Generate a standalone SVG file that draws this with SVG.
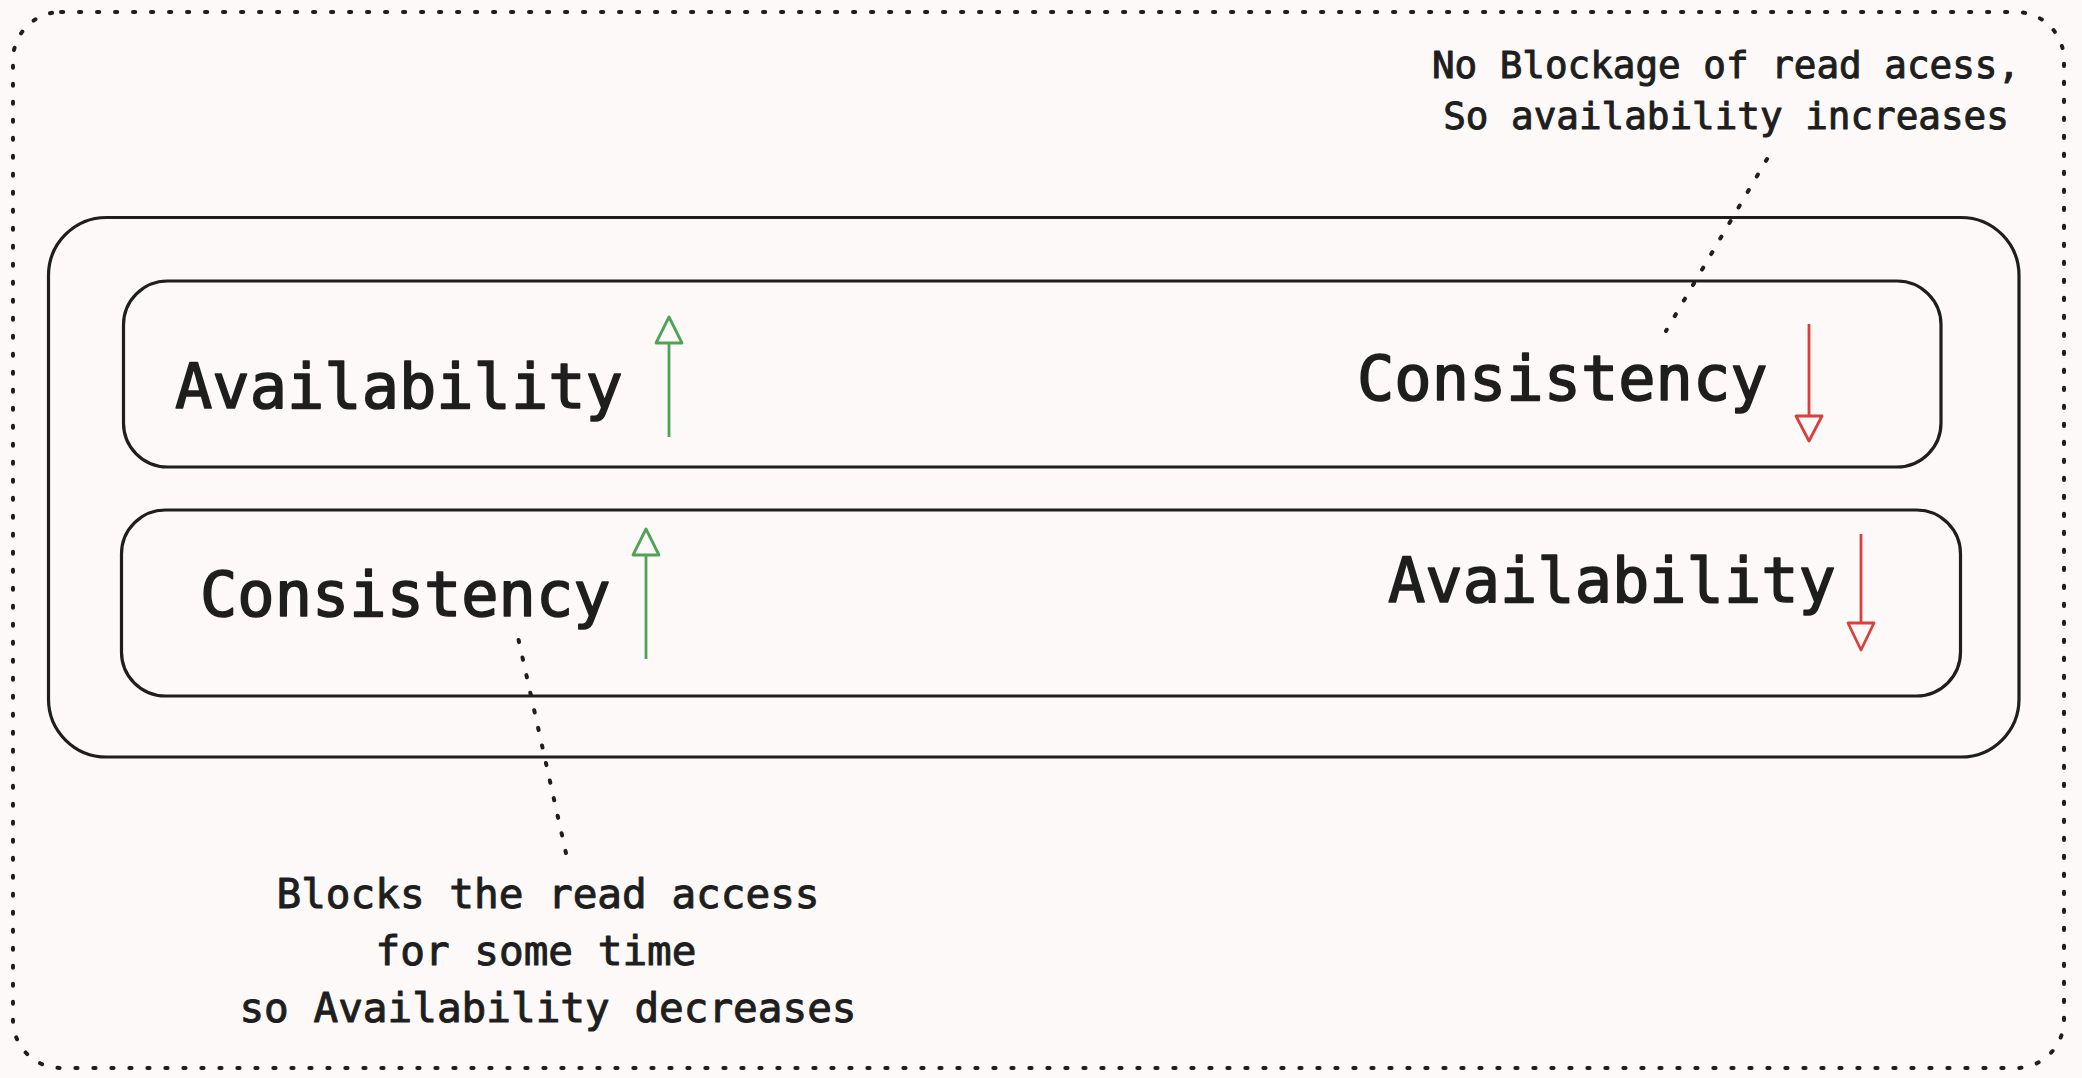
<svg xmlns="http://www.w3.org/2000/svg" width="2082" height="1078" viewBox="0 0 2082 1078">
  <style>
    .box { fill: none; stroke: #1e1e1e; stroke-width: 3.2; }
    .dots { fill: none; stroke: #1e1e1e; stroke-width: 4; stroke-linecap: round; stroke-dasharray: 2.2 15.8; }
    .big { font-family: "DejaVu Sans Mono", "Liberation Mono", monospace; font-size: 62px; fill: #1e1e1e; stroke: #1e1e1e; stroke-width: 1.6; stroke-linejoin: round; }
    .note { font-family: "DejaVu Sans Mono", "Liberation Mono", monospace; fill: #1e1e1e; stroke: #1e1e1e; stroke-width: 1; stroke-linejoin: round; text-anchor: middle; }
    .up { stroke: #4fa356; stroke-width: 2.8; fill: none; }
    .uphead { stroke: #4fa356; stroke-width: 2.8; fill: #fcf9f8; stroke-linejoin: round; }
    .down { stroke: #d8403c; stroke-width: 2.8; fill: none; }
    .downhead { stroke: #d8403c; stroke-width: 2.8; fill: #fcf9f8; stroke-linejoin: round; }
  </style>
  <rect x="0" y="0" width="2082" height="1078" fill="#fcf9f8"/>

  <g id="frame">
    <rect class="dots" x="13" y="12" width="2051" height="1056" rx="48"/>
  </g>

  <g id="container">
    <rect class="box" x="48.5" y="217.5" width="1970.5" height="539.5" rx="58"/>
  </g>

  <g id="row-top">
    <rect class="box" x="123.5" y="281" width="1817.5" height="186" rx="44"/>
    <text class="big" x="175" y="408">Availability</text>
    <text class="big" x="1357" y="400">Consistency</text>
  </g>

  <g id="row-bottom">
    <rect class="box" x="121.5" y="510" width="1839" height="186" rx="44"/>
    <text class="big" x="200" y="616">Consistency</text>
    <text class="big" x="1388" y="602">Availability</text>
  </g>

  <g id="note-top">
    <text class="note" font-size="37.6" x="1726" y="78">No Blockage of read acess,</text>
    <text class="note" font-size="37.6" x="1726" y="129">So availability increases</text>
  </g>

  <g id="note-bottom">
    <text class="note" font-size="41" x="548" y="908">Blocks the read access</text>
    <text class="note" font-size="41" x="536" y="965">for some time</text>
    <text class="note" font-size="41" x="548" y="1022">so Availability decreases</text>
  </g>

  <g id="connectors">
    <path class="dots" d="M1767 159 L1666 331"/>
    <path class="dots" d="M518.6 640 L566.4 855"/>
    <g id="arrow-up-1">
      <path class="up" d="M669 437 L669 343"/>
      <path class="uphead" d="M669 317 L656 343 L682 343 Z"/>
    </g>
    <g id="arrow-down-1">
      <path class="down" d="M1809 324 L1809 416"/>
      <path class="downhead" d="M1809 441 L1796 416 L1822 416 Z"/>
    </g>
    <g id="arrow-up-2">
      <path class="up" d="M646 659 L646 555"/>
      <path class="uphead" d="M646 529 L633 555 L659 555 Z"/>
    </g>
    <g id="arrow-down-2">
      <path class="down" d="M1861 534 L1861 623"/>
      <path class="downhead" d="M1861 650 L1848 623 L1874 623 Z"/>
    </g>
  </g>
</svg>
